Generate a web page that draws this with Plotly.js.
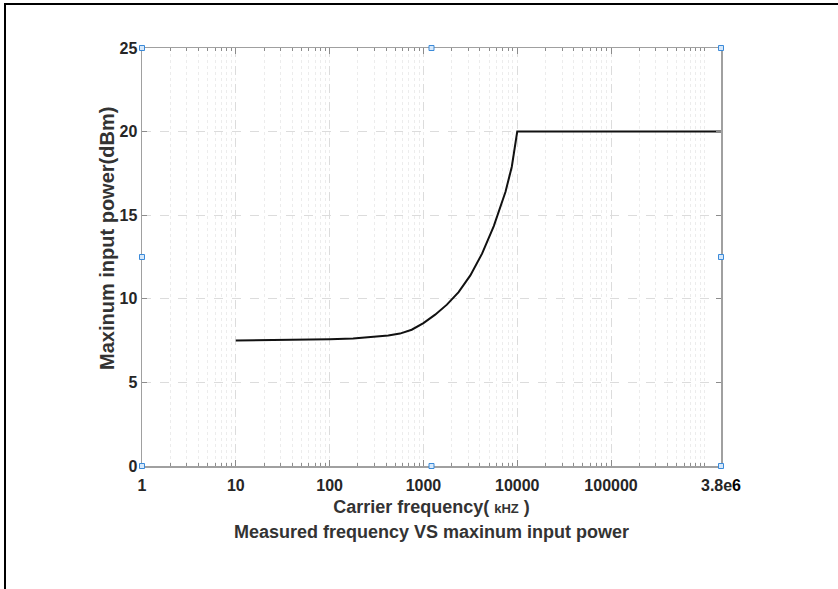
<!DOCTYPE html>
<html>
<head>
<meta charset="utf-8">
<script src="https://cdn.plot.ly/plotly-3.0.1.min.js"></script>
<style>
  html, body { margin: 0; padding: 0; background: #fff; }
  #wrap { position: relative; width: 838px; height: 589px; overflow: hidden; }
  #chart { position: absolute; left: 0; top: 0; width: 838px; height: 589px; }
  #frameTop { position: absolute; left: 4px; top: 3px; width: 834px; height: 2px; background: #000; }
  #frameLeft { position: absolute; left: 4px; top: 3px; width: 2px; height: 586px; background: #000; }
</style>
</head>
<body>
<div id="wrap">
  <div id="chart"></div>
  <div id="frameTop"></div>
  <div id="frameLeft"></div>
</div>
<script>
// ---- data ----
const freqKHz = [10, 31.6, 100, 178, 316, 422, 562, 750, 1000, 1334, 1778, 2371, 3162, 4217, 5623, 7499, 8750, 10000, 1486000];
const powerDBm = [7.5, 7.53, 7.58, 7.63, 7.72, 7.8, 7.92, 8.15, 8.55, 9.05, 9.65, 10.4, 11.4, 12.7, 14.35, 16.4, 17.9, 20, 20];

const xTickVals = [1, 10, 100, 1000, 10000, 100000, 1486000];
const xTickText = ['1', '10', '100', '1000', '10000', '100000', "3.8e<span style='color:#000'>6</span>"];
const yTickVals = [0, 5, 10, 15, 20, 25];

const chartTitle = 'Measured frequency VS maxinum input power';
const xTitle = "Carrier frequency( <span style='font-size:13px'>kHZ</span> )";
const yTitle = 'Maxinum input power(dBm)';

const FONT = 'Liberation Sans, Arial, Helvetica, sans-serif';

const trace = {
  x: freqKHz,
  y: powerDBm,
  type: 'scatter',
  mode: 'lines',
  line: { color: '#111', width: 2, shape: 'linear' },
  hoverinfo: 'x+y'
};

// selection-handle squares at corners and mid-edges of the axes box
const handlePos = [[0,0],[0.5,0],[1,0],[0,0.5],[1,0.5],[0,1],[0.5,1],[1,1]];
const shapes = handlePos.map(p => ({
  type: 'rect', xref: 'paper', yref: 'paper',
  xsizemode: 'pixel', ysizemode: 'pixel',
  xanchor: p[0], yanchor: p[1],
  x0: -2.5, x1: 2.5, y0: -2.5, y1: 2.5,
  fillcolor: '#d6e8fa', line: { color: '#3b8ad9', width: 1 }, layer: 'above'
}));

const layout = {
  width: 838, height: 589,
  margin: { l: 142, r: 117, t: 48, b: 123, pad: 0 },
  paper_bgcolor: '#fff', plot_bgcolor: '#fff',
  showlegend: false,
  font: { family: FONT, color: '#262626' },
  title: {
    text: chartTitle,
    font: { family: FONT, size: 18, weight: 'bold', color: '#333' },
    xref: 'paper', x: 0.5, xanchor: 'center',
    yref: 'container', y: 1 - 532/589, yanchor: 'middle'
  },
  xaxis: {
    type: 'log',
    range: [0, Math.log10(1486000)],
    tickmode: 'array', tickvals: xTickVals, ticktext: xTickText,
    tickfont: { family: FONT, size: 16, weight: 'bold', color: '#262626' },
    ticklabelstandoff: 4,
    ticks: 'inside', ticklen: 6, tickcolor: '#8c8c8c', tickwidth: 1,
    showline: true, linecolor: '#a0a0a0', linewidth: 1.5, mirror: 'ticks',
    showgrid: true, gridcolor: '#dcdcdc', griddash: 'dash', gridwidth: 1,
    zeroline: false,
    minor: {
      dtick: 'D1', showgrid: true, gridcolor: '#ececec', griddash: 'dot', gridwidth: 1,
      ticks: 'inside', ticklen: 3, tickcolor: '#8c8c8c'
    },
    title: { text: xTitle, font: { family: FONT, size: 18, weight: 'bold', color: '#333' }, standoff: 7 }
  },
  yaxis: {
    range: [0, 25],
    tickmode: 'array', tickvals: yTickVals,
    tickfont: { family: FONT, size: 16, weight: 'bold', color: '#262626' },
    ticks: 'inside', ticklen: 5, tickcolor: '#8c8c8c',
    showline: true, linecolor: '#a0a0a0', linewidth: 1.5, mirror: 'ticks',
    showgrid: true, gridcolor: '#dcdcdc', griddash: 'dash', gridwidth: 1,
    zeroline: false
  },
  annotations: [{
    text: yTitle, textangle: -90,
    xref: 'paper', x: 0, xanchor: 'center', xshift: -35,
    yref: 'paper', y: (466 - 239) / 418, yanchor: 'middle',
    showarrow: false,
    font: { family: FONT, size: 20, weight: 'bold', color: '#333' }
  }],
  shapes: shapes
};

Plotly.newPlot('chart', [trace], layout, { displayModeBar: false, staticPlot: true });
</script>
</body>
</html>
